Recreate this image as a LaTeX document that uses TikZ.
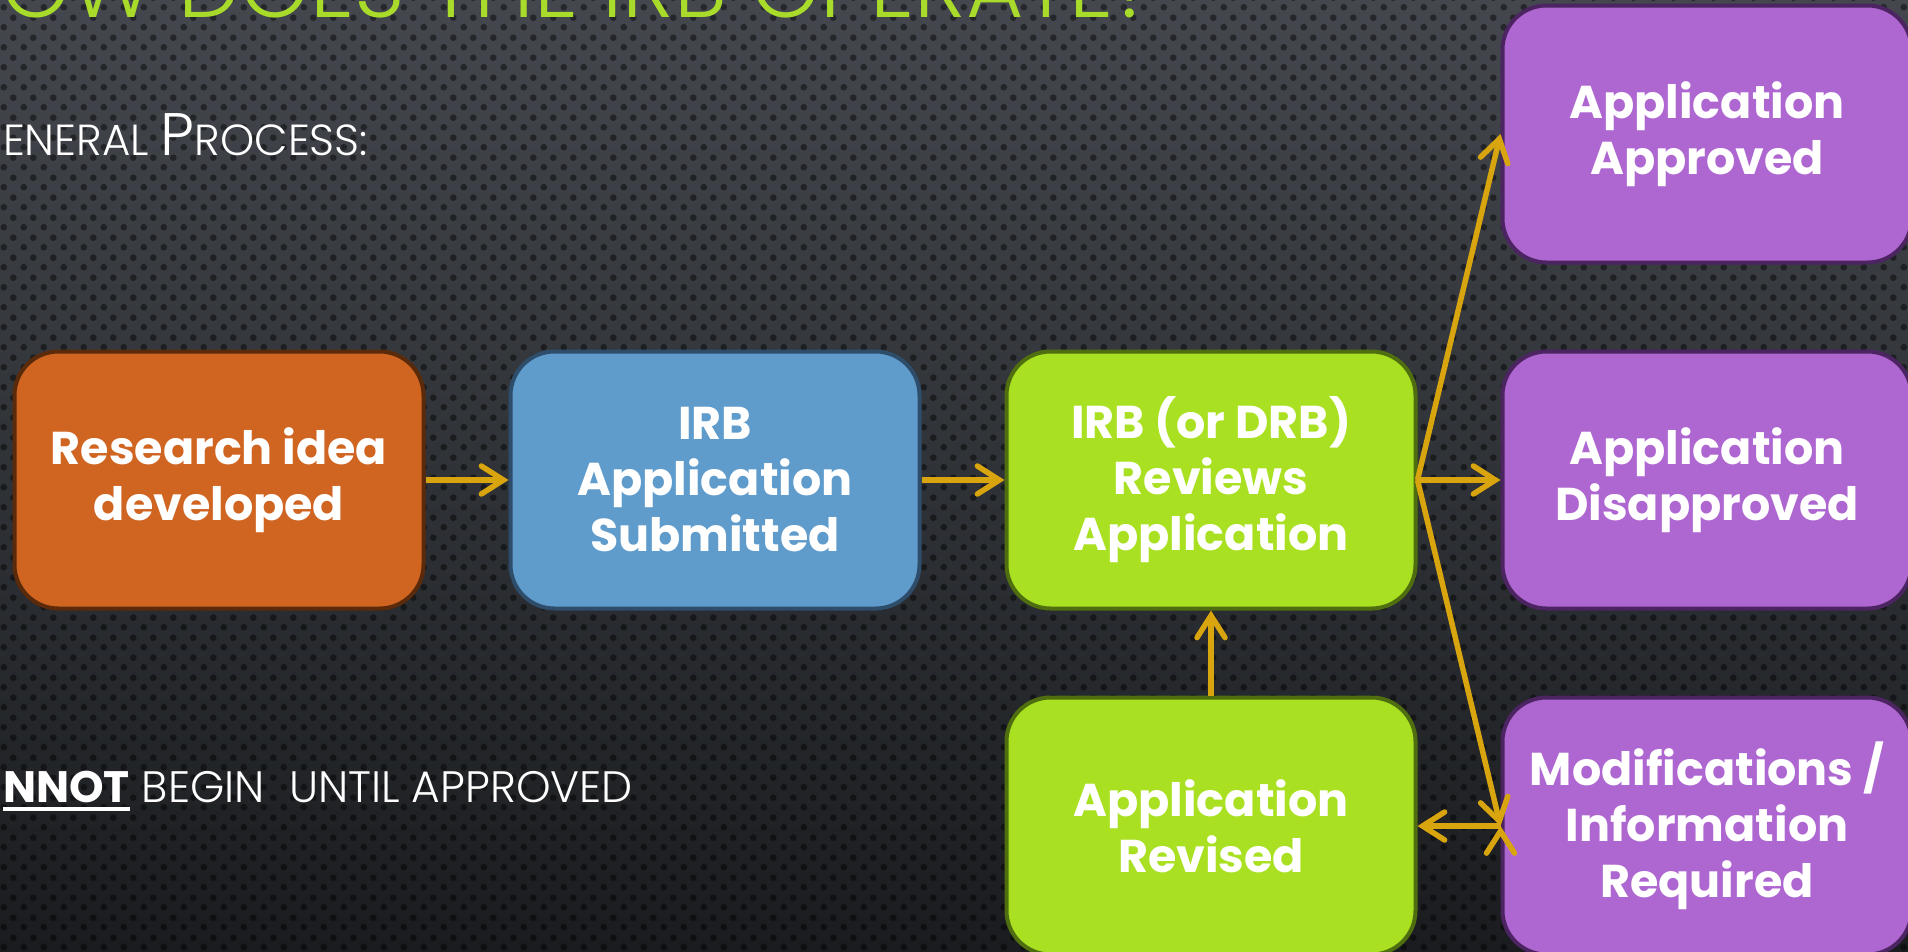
\documentclass[tikz,border=0pt]{standalone}
\usepackage{fontspec}
\setmainfont{Poppins}
\newfontfamily\thinfont{Poppins Light}
\usetikzlibrary{arrows.meta, positioning, patterns.meta}

\definecolor{bgtop}{HTML}{44484E}
\definecolor{bgbot}{HTML}{1A1C1F}
\definecolor{titlelime}{HTML}{A9DC2A}
\definecolor{arrowgold}{HTML}{D9A50E}
\definecolor{ideafill}{HTML}{D06522}
\definecolor{ideaedge}{HTML}{5A2A0A}
\definecolor{submitfill}{HTML}{5F9BCB}
\definecolor{submitedge}{HTML}{2E4D6B}
\definecolor{reviewfill}{HTML}{AAE022}
\definecolor{reviewedge}{HTML}{4F6E10}
\definecolor{resultfill}{HTML}{AE66D0}
\definecolor{resultedge}{HTML}{4B2461}

\newcommand\thickul[1]{\setbox0\hbox{#1}\rlap{\rule[-9pt]{\wd0}{4.5pt}}\box0\relax}

\tikzdeclarepattern{name=perforated, type=uncolored,
  bottom left={(0pt,0pt)}, top right={(20pt,20pt)}, tile size={(20pt,20pt)},
  code={\fill (5pt,5pt) circle (3.5pt); \fill (15pt,15pt) circle (3.5pt);}}

\begin{document}
\begin{tikzpicture}[x=1pt,y=-1pt,node distance=85pt and 83pt,->,>={Straight Barb[length=22pt,width=28pt,line cap=round]},line width=5.5pt]

		\tikzset{box/.style={rectangle, rounded corners=44pt,
								minimum width=409pt, minimum height=257pt,
								line width=4pt, align=center, text=white,
								font=\bfseries\fontsize{46}{56}\selectfont},
				 idea box/.style={box, fill=ideafill, draw=ideaedge},
				 submit box/.style={box, fill=submitfill, draw=submitedge},
				 review box/.style={box, fill=reviewfill, draw=reviewedge},
				 result box/.style={box, fill=resultfill, draw=resultedge}}

		\useasboundingbox (0,0) rectangle (1908,951);
		\clip (0,0) rectangle (1908,951);

		% perforated backdrop
		\fill[top color=bgtop, bottom color=bgbot] (0,0) rectangle (1908,951);
		\fill[pattern=perforated, pattern color=black, fill opacity=0.45] (0,0) rectangle (1908,951);

		\node[anchor=base west, text=titlelime, font=\thinfont\fontsize{88}{88}\selectfont] (title) at (-5,17) {OW DOES THE IRB OPERATE?};
		\node[anchor=base west, text=white, font=\thinfont\fontsize{43.5}{44}\selectfont] (general) at (-3,155)
			{ENERAL {\fontsize{60}{60}\selectfont P}ROCESS:};
		\node[anchor=base west, text=white, font=\thinfont\fontsize{44}{44}\selectfont] (cannot) at (-3,802)
			{\thickul{\normalfont\bfseries NNOT} BEGIN\ \ UNTIL APPROVED};

		\node[idea box] (idea) at (219,480) {Research idea\\developed};
		\node[submit box, right=of idea] (submit) {IRB\\Application\\Submitted};
		\node[review box, right=of submit] (review) {IRB (or DRB)\\Reviews\\Application};
		\node[review box, below=of review] (revised) {Application\\Revised};
		\node[result box, right=of review] (disapproved) {Application\\Disapproved};
		\node[result box, above=of disapproved] (approved) {Application\\Approved};
		\node[result box, below=of disapproved] (modify) {Modifications /\\Information\\Required};

		\draw[draw=arrowgold]
		(idea) edge (submit)
		(submit) edge (review)
		(review.east) edge (approved.west)
		(review.east) edge (disapproved.west)
		(review.east) edge (modify.west)
		(modify.west) edge (revised.east)
		(revised) edge (review);
\end{tikzpicture}
\end{document}
